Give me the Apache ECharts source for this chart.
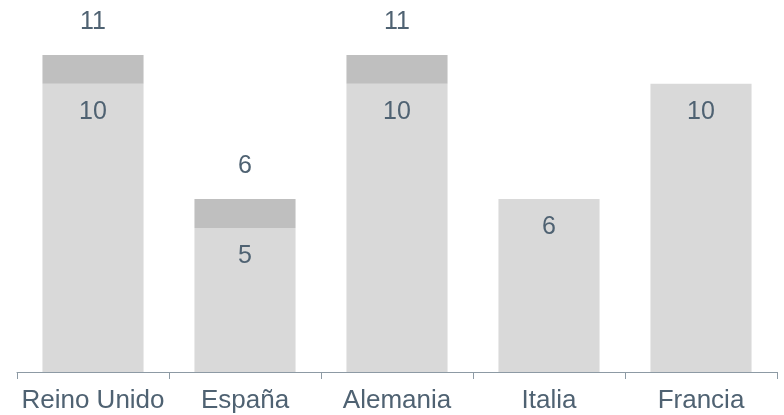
<!DOCTYPE html>
<html>
<head>
<meta charset="utf-8">
<script src="https://cdn.jsdelivr.net/npm/echarts@6/dist/echarts.min.js"></script>
<style>
  html, body { margin: 0; padding: 0; background: #ffffff; }
  #chart { width: 784px; height: 415px; }
</style>
</head>
<body>
<div id="chart"></div>
<script>
// Countries along the x axis
const countries = ['Reino Unido', 'España', 'Alemania', 'Italia', 'Francia'];
// Lower (light) segment of each bar
const baseValues = [10, 5, 10, 6, 10];
// Upper (dark) segment stacked on top
const extraValues = [1, 1, 1, 0, 0];

const textColor = '#4f6272';
const fontFamily = 'Liberation Sans, Arial, sans-serif';

const chart = echarts.init(document.getElementById('chart'), null, { renderer: 'canvas' });

chart.setOption({
  animation: false,
  grid: { left: 17, right: 7, top: 55, bottom: 43 },
  xAxis: {
    type: 'category',
    data: countries,
    axisLine: { lineStyle: { color: '#8d9aa4', width: 1 } },
    axisTick: { show: true, length: 7, interval: 0, lineStyle: { color: '#8d9aa4' } },
    axisLabel: { color: textColor, fontSize: 26, fontFamily: fontFamily, margin: 16, interval: 0 }
  },
  yAxis: {
    type: 'value',
    min: 0,
    max: 11,
    show: false,
    splitLine: { show: false }
  },
  series: [
    {
      type: 'bar',
      stack: 'total',
      data: baseValues,
      barWidth: '66.5%',
      itemStyle: { color: '#d9d9d9' },
      label: {
        show: true,
        position: 'insideTop',
        distance: 16,
        color: textColor,
        fontSize: 25,
        fontFamily: fontFamily
      }
    },
    {
      type: 'bar',
      stack: 'total',
      data: extraValues,
      itemStyle: { color: '#bfbfbf' },
      label: {
        show: true,
        position: 'top',
        distance: 20,
        color: textColor,
        fontSize: 25,
        fontFamily: fontFamily,
        formatter: function (p) {
          if (!p.value) return '';
          return String(baseValues[p.dataIndex] + extraValues[p.dataIndex]);
        }
      }
    }
  ]
});
</script>
</body>
</html>
